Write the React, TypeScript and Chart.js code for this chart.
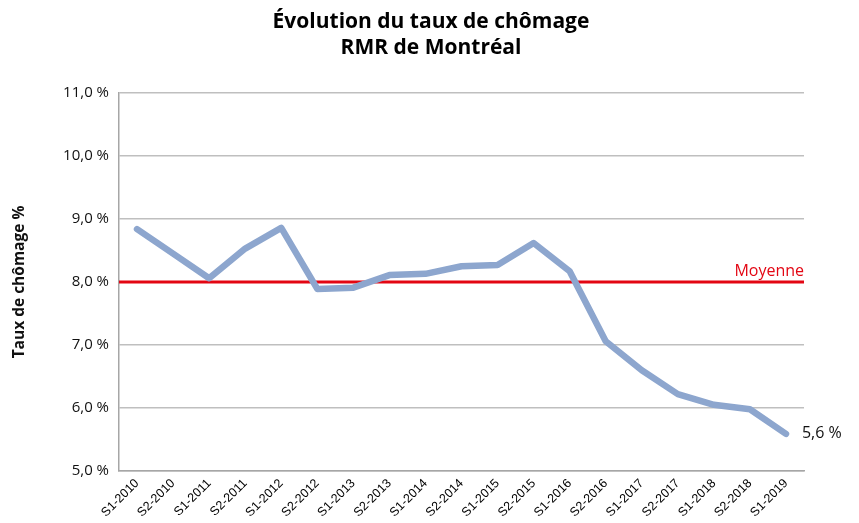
import React, { useEffect, useRef } from "react";
import { Chart, registerables } from "chart.js";

Chart.register(...registerables);

const categories = [
  "S1-2010", "S2-2010", "S1-2011", "S2-2011", "S1-2012", "S2-2012", "S1-2013",
  "S2-2013", "S1-2014", "S2-2014", "S1-2015", "S2-2015", "S1-2016", "S2-2016",
  "S1-2017", "S2-2017", "S1-2018", "S2-2018", "S1-2019",
];
const tauxChomage = [
  8.84, 8.45, 8.06, 8.53, 8.86, 7.89, 7.91, 8.11, 8.13, 8.25, 8.27, 8.62, 8.17,
  7.06, 6.6, 6.22, 6.05, 5.98, 5.59,
];
const moyenne = 8.0;
const titleLines = ["Évolution du taux de chômage", "RMR de Montréal"];
const yTitle = "Taux de chômage %";
const moyenneLabel = "Moyenne";
const lastLabel = "5,6 %";

const FONT = "'Open Sans', 'DejaVu Sans', sans-serif";

const overlay = {
  id: "overlay",
  beforeDatasetsDraw(chart: any) {
    const { ctx, chartArea, scales } = chart;
    const y = scales.y.getPixelForValue(moyenne);
    ctx.save();
    ctx.strokeStyle = "#E30613";
    ctx.lineWidth = 3;
    ctx.beginPath();
    ctx.moveTo(chartArea.left, y);
    ctx.lineTo(chartArea.right, y);
    ctx.stroke();
    ctx.fillStyle = "#E30613";
    ctx.font = `16px ${FONT}`;
    ctx.textAlign = "right";
    ctx.textBaseline = "bottom";
    ctx.fillText(moyenneLabel, chartArea.right, y - 3);
    ctx.restore();
  },
  afterDraw(chart: any) {
    const { ctx, scales } = chart;
    ctx.save();
    // title
    ctx.fillStyle = "#000";
    ctx.font = `bold 21px ${FONT}`;
    ctx.textAlign = "center";
    ctx.textBaseline = "middle";
    ctx.fillText(titleLines[0], 431, 22);
    ctx.fillText(titleLines[1], 431, 48);
    // last value label
    const n = tauxChomage.length - 1;
    const px = scales.x.getPixelForValue(n);
    const py = scales.y.getPixelForValue(tauxChomage[n]);
    ctx.font = `16px ${FONT}`;
    ctx.textAlign = "left";
    ctx.fillStyle = "#111";
    ctx.fillText(lastLabel, px + 16, py);
    // y title
    ctx.translate(20, 282);
    ctx.rotate(-Math.PI / 2);
    ctx.textAlign = "center";
    ctx.font = `bold 15.5px ${FONT}`;
    ctx.fillText(yTitle, 0, 0);
    ctx.restore();
  },
};

export default function App() {
  const ref = useRef<HTMLCanvasElement>(null);
  useEffect(() => {
    if (!ref.current) return;
    const chart = new Chart(ref.current, {
      type: "line",
      data: {
        labels: categories,
        datasets: [
          {
            data: tauxChomage,
            borderColor: "#8DA6CE",
            borderWidth: 6.5,
            pointRadius: 0,
            tension: 0,
            borderJoinStyle: "round",
            borderCapStyle: "round",
          },
        ],
      },
      options: {
        animation: false,
        responsive: false,
        maintainAspectRatio: false,
        layout: { padding: { top: 93, right: 55, left: 0, bottom: 0 } },
        plugins: { legend: { display: false }, tooltip: { enabled: false }, title: { display: false } },
        scales: {
          x: {
            offset: true,
            grid: { display: false, drawTicks: false },
            border: { color: "#A6A6A6", width: 1.5 },
            ticks: {
              minRotation: 45,
              maxRotation: 45,
              autoSkip: false,
              padding: 5,
              color: "#000",
              font: { family: "'Liberation Sans', sans-serif", size: 12.5 },
            },
            afterFit(scale: any) { scale.height = 52; },
          },
          y: {
            min: 5,
            max: 11,
            ticks: {
              stepSize: 1,
              padding: 10,
              color: "#111",
              font: { family: FONT, size: 15 },
              callback: (v: any) => Number(v).toFixed(1).replace(".", ",") + " %",
            },
            grid: { color: "#BFBFBF", lineWidth: 1.5, drawTicks: false },
            border: { color: "#A6A6A6", width: 1.5 },
            afterFit(scale: any) { scale.width = 119; },
          },
        },
      },
      plugins: [overlay],
    });
    return () => chart.destroy();
  }, []);
  return (
    <div style={{ position: "fixed", left: 0, top: 0, width: 859, height: 523, background: "#fff" }}>
      <canvas ref={ref} width={859} height={523} style={{ width: 859, height: 523 }} />
    </div>
  );
}
